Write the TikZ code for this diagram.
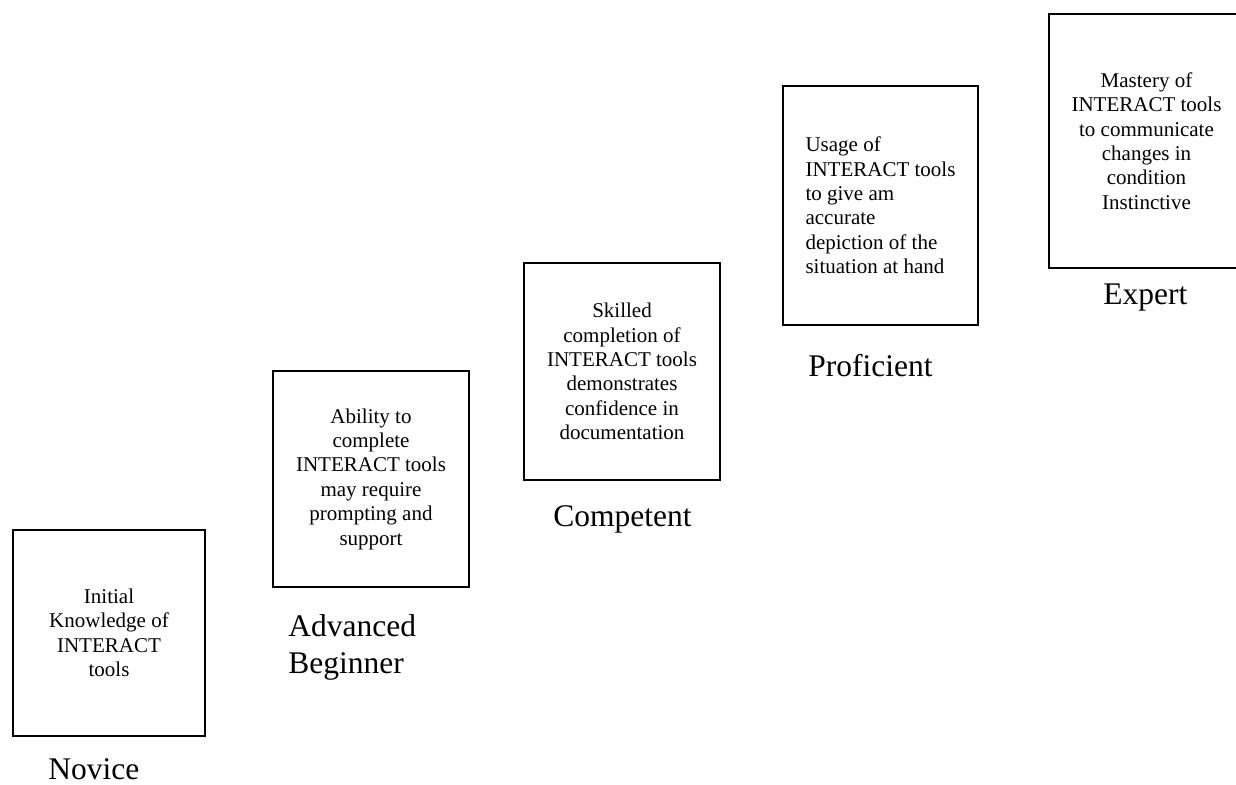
\documentclass[tikz,border=0pt]{standalone}
\usepackage{fontspec}
\setmainfont{Liberation Serif}
\usepackage{tikz}
\tikzset{
  stagebox/.style={draw, rectangle, line width=1.35pt, align=center, inner sep=0pt,
    font=\fontsize{10.5}{12.2}\selectfont},
  stagename/.style={inner sep=0pt, align=left, font=\fontsize{15.75}{18.5}\selectfont},
}
\begin{document}
\begin{tikzpicture}[x=0.5pt,y=-0.5pt]
        \useasboundingbox (0,0) rectangle (1236,785);
        % the five stage boxes, rising to the right
        \node[stagebox, minimum width=96pt, minimum height=103pt] (novice) at (109,633)
            {Initial\\Knowledge of\\INTERACT\\tools};
        \node[stagebox, minimum width=98pt, minimum height=108pt] (advanced) at (371,479)
            {Ability to\\complete\\INTERACT tools\\may require\\prompting and\\support};
        \node[stagebox, minimum width=98pt, minimum height=108.5pt] (competent) at (622,371.5)
            {Skilled\\completion of\\INTERACT tools\\demonstrates\\confidence in\\documentation};
        \node[stagebox, align=left, minimum width=97.5pt, minimum height=119.5pt] (proficient) at (880.5,205.5)
            {Usage of\\INTERACT tools\\to give am\\accurate\\depiction of the\\situation at hand};
        \node[stagebox, minimum width=97.5pt, minimum height=127pt] (expert) at (1146.5,141)
            {Mastery of\\INTERACT tools\\to communicate\\changes in\\condition\\Instinctive};
        % stage names
        \node[stagename, anchor=base west] (novicename) at (48,779) {Novice};
        \node[stagename, anchor=north west] (advancedname) at (288,614) {Advanced\\Beginner};
        \node[stagename, anchor=base west] (competentname) at (553,527) {Competent};
        \node[stagename, anchor=base west] (proficientname) at (808,377) {Proficient};
        \node[stagename, anchor=base west] (expertname) at (1103,305) {Expert};
\end{tikzpicture}
\end{document}
